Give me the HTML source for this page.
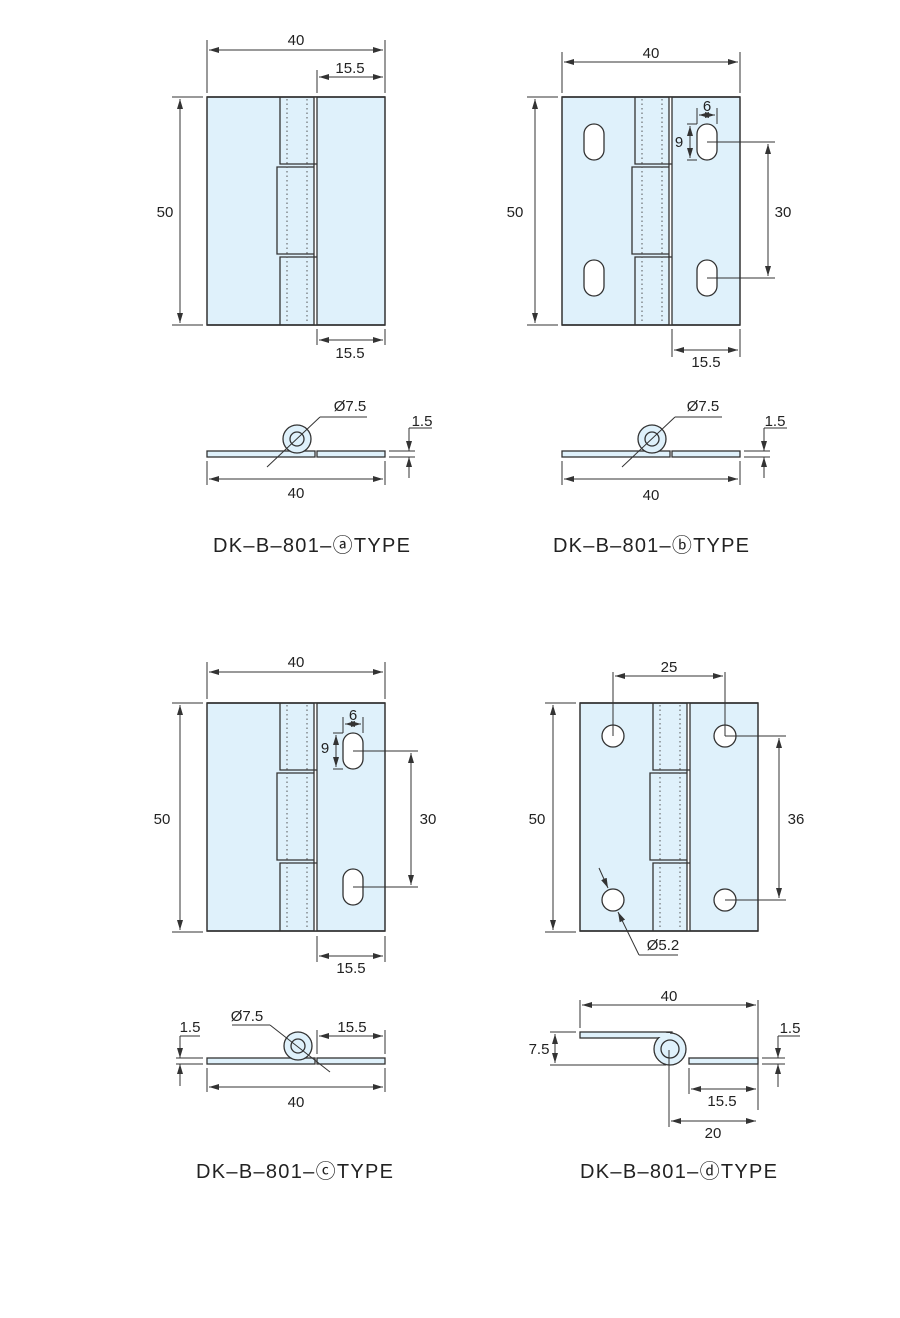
<!DOCTYPE html>
<html><head><meta charset="utf-8"><style>
html,body{margin:0;padding:0;background:#fff;}
svg{display:block;font-family:"Liberation Sans",Arial,sans-serif;}
text{fill:#222;}
</style></head><body>
<svg width="900" height="1318" viewBox="0 0 900 1318" xmlns="http://www.w3.org/2000/svg">
<defs>
<marker id="a" viewBox="0 0 10 6" refX="10" refY="3" markerWidth="10" markerHeight="6" orient="auto-start-reverse" markerUnits="userSpaceOnUse"><path d="M0,0 L10,3 L0,6 z" fill="#333"/></marker>
<g id="body">
<rect x="0" y="0" width="178" height="228" fill="#dff1fb" stroke="#333" stroke-width="1.5"/>
<rect x="107" y="0" width="3" height="228" fill="#fff"/>
<line x1="107" y1="0" x2="107" y2="228" stroke="#333" stroke-width="1.3"/>
<line x1="110" y1="0" x2="110" y2="228" stroke="#333" stroke-width="1.3"/>
<line x1="0" y1="0" x2="178" y2="0" stroke="#333" stroke-width="1.5"/>
<line x1="0" y1="228" x2="178" y2="228" stroke="#333" stroke-width="1.5"/>
<polyline points="73,0 73,67 110,67" fill="none" stroke="#333" stroke-width="1.3"/>
<polyline points="107,70 70,70 70,157 107,157" fill="none" stroke="#333" stroke-width="1.3"/>
<polyline points="110,160 73,160 73,228" fill="none" stroke="#333" stroke-width="1.3"/>
<line x1="80" y1="2" x2="80" y2="226" stroke="#555" stroke-width="1" stroke-dasharray="1.5,3"/>
<line x1="100" y1="2" x2="100" y2="226" stroke="#555" stroke-width="1" stroke-dasharray="1.5,3"/>
</g>
</defs>
<g stroke="#333" stroke-width="1" fill="none">
<use href="#body" x="207" y="97"/>
<line x1="207" y1="40" x2="207" y2="93"/><line x1="385" y1="40" x2="385" y2="93"/>
<line x1="209" y1="50" x2="383" y2="50" marker-start="url(#a)" marker-end="url(#a)"/>
<line x1="317" y1="70" x2="317" y2="93"/>
<line x1="319" y1="77" x2="383" y2="77" marker-start="url(#a)" marker-end="url(#a)"/>
<line x1="172" y1="97" x2="203" y2="97"/><line x1="172" y1="325" x2="203" y2="325"/>
<line x1="180" y1="99" x2="180" y2="323" marker-start="url(#a)" marker-end="url(#a)"/>
<line x1="317" y1="329" x2="317" y2="345"/><line x1="385" y1="329" x2="385" y2="345"/>
<line x1="319" y1="340" x2="383" y2="340" marker-start="url(#a)" marker-end="url(#a)"/>
<rect x="207" y="451" width="108" height="6" fill="#dff1fb" stroke-width="1.3"/>
<rect x="317" y="451" width="68" height="6" fill="#dff1fb" stroke-width="1.3"/>
<circle cx="297" cy="439" r="14" fill="#dff1fb" stroke-width="1.3"/>
<circle cx="297" cy="439" r="7" fill="#dff1fb" stroke-width="1.3"/>
<line x1="267" y1="467" x2="320" y2="417"/><line x1="320" y1="417" x2="367" y2="417"/>
<line x1="207" y1="461" x2="207" y2="485"/><line x1="385" y1="461" x2="385" y2="485"/>
<line x1="209" y1="479" x2="383" y2="479" marker-start="url(#a)" marker-end="url(#a)"/>
<line x1="389" y1="451" x2="415" y2="451"/><line x1="389" y1="457" x2="415" y2="457"/>
<line x1="409" y1="428" x2="409" y2="451" marker-end="url(#a)"/><line x1="409" y1="478" x2="409" y2="457" marker-end="url(#a)"/>
<line x1="409" y1="428" x2="432" y2="428"/>
<use href="#body" x="562" y="97"/>
<rect x="584" y="124" width="20" height="36" rx="10" fill="#fff" stroke-width="1.3"/>
<rect x="584" y="260" width="20" height="36" rx="10" fill="#fff" stroke-width="1.3"/>
<rect x="697" y="124" width="20" height="36" rx="10" fill="#fff" stroke-width="1.3"/>
<rect x="697" y="260" width="20" height="36" rx="10" fill="#fff" stroke-width="1.3"/>
<line x1="562" y1="52" x2="562" y2="93"/><line x1="740" y1="52" x2="740" y2="93"/>
<line x1="564" y1="62" x2="738" y2="62" marker-start="url(#a)" marker-end="url(#a)"/>
<line x1="697" y1="108" x2="697" y2="124"/><line x1="717" y1="108" x2="717" y2="124"/>
<line x1="699" y1="115" x2="715" y2="115" marker-start="url(#a)" marker-end="url(#a)"/>
<line x1="687" y1="124" x2="697" y2="124"/><line x1="687" y1="160" x2="697" y2="160"/>
<line x1="690" y1="126" x2="690" y2="158" marker-start="url(#a)" marker-end="url(#a)"/>
<line x1="707" y1="142" x2="775" y2="142"/><line x1="707" y1="278" x2="775" y2="278"/>
<line x1="768" y1="144" x2="768" y2="276" marker-start="url(#a)" marker-end="url(#a)"/>
<line x1="527" y1="97" x2="558" y2="97"/><line x1="527" y1="325" x2="558" y2="325"/>
<line x1="535" y1="99" x2="535" y2="323" marker-start="url(#a)" marker-end="url(#a)"/>
<line x1="672" y1="329" x2="672" y2="357"/><line x1="740" y1="329" x2="740" y2="357"/>
<line x1="674" y1="350" x2="738" y2="350" marker-start="url(#a)" marker-end="url(#a)"/>
<rect x="562" y="451" width="108" height="6" fill="#dff1fb" stroke-width="1.3"/>
<rect x="672" y="451" width="68" height="6" fill="#dff1fb" stroke-width="1.3"/>
<circle cx="652" cy="439" r="14" fill="#dff1fb" stroke-width="1.3"/>
<circle cx="652" cy="439" r="7" fill="#dff1fb" stroke-width="1.3"/>
<line x1="622" y1="467" x2="675" y2="417"/><line x1="675" y1="417" x2="722" y2="417"/>
<line x1="562" y1="461" x2="562" y2="485"/><line x1="740" y1="461" x2="740" y2="485"/>
<line x1="564" y1="479" x2="738" y2="479" marker-start="url(#a)" marker-end="url(#a)"/>
<line x1="744" y1="451" x2="770" y2="451"/><line x1="744" y1="457" x2="770" y2="457"/>
<line x1="764" y1="428" x2="764" y2="451" marker-end="url(#a)"/><line x1="764" y1="478" x2="764" y2="457" marker-end="url(#a)"/>
<line x1="764" y1="428" x2="787" y2="428"/>
<use href="#body" x="207" y="703"/>
<rect x="343" y="733" width="20" height="36" rx="10" fill="#fff" stroke-width="1.3"/>
<rect x="343" y="869" width="20" height="36" rx="10" fill="#fff" stroke-width="1.3"/>
<line x1="207" y1="662" x2="207" y2="699"/><line x1="385" y1="662" x2="385" y2="699"/>
<line x1="209" y1="672" x2="383" y2="672" marker-start="url(#a)" marker-end="url(#a)"/>
<line x1="343" y1="717" x2="343" y2="733"/><line x1="363" y1="717" x2="363" y2="733"/>
<line x1="345" y1="724" x2="361" y2="724" marker-start="url(#a)" marker-end="url(#a)"/>
<line x1="333" y1="733" x2="343" y2="733"/><line x1="333" y1="769" x2="343" y2="769"/>
<line x1="336" y1="735" x2="336" y2="767" marker-start="url(#a)" marker-end="url(#a)"/>
<line x1="353" y1="751" x2="418" y2="751"/><line x1="353" y1="887" x2="418" y2="887"/>
<line x1="411" y1="753" x2="411" y2="885" marker-start="url(#a)" marker-end="url(#a)"/>
<line x1="172" y1="703" x2="203" y2="703"/><line x1="172" y1="932" x2="203" y2="932"/>
<line x1="180" y1="705" x2="180" y2="930" marker-start="url(#a)" marker-end="url(#a)"/>
<line x1="317" y1="936" x2="317" y2="962"/><line x1="385" y1="936" x2="385" y2="962"/>
<line x1="319" y1="956" x2="383" y2="956" marker-start="url(#a)" marker-end="url(#a)"/>
<rect x="207" y="1058" width="108" height="6" fill="#dff1fb" stroke-width="1.3"/>
<rect x="317" y="1058" width="68" height="6" fill="#dff1fb" stroke-width="1.3"/>
<circle cx="298" cy="1046" r="14" fill="#dff1fb" stroke-width="1.3"/>
<circle cx="298" cy="1046" r="7" fill="#dff1fb" stroke-width="1.3"/>
<line x1="232" y1="1025" x2="270" y2="1025"/><line x1="270" y1="1025" x2="330" y2="1072"/>
<line x1="317" y1="1030" x2="317" y2="1054"/><line x1="385" y1="1030" x2="385" y2="1054"/>
<line x1="319" y1="1036" x2="383" y2="1036" marker-start="url(#a)" marker-end="url(#a)"/>
<line x1="207" y1="1068" x2="207" y2="1092"/><line x1="385" y1="1068" x2="385" y2="1092"/>
<line x1="209" y1="1087" x2="383" y2="1087" marker-start="url(#a)" marker-end="url(#a)"/>
<line x1="176" y1="1058" x2="203" y2="1058"/><line x1="176" y1="1064" x2="203" y2="1064"/>
<line x1="180" y1="1036" x2="180" y2="1058" marker-end="url(#a)"/><line x1="180" y1="1086" x2="180" y2="1064" marker-end="url(#a)"/>
<line x1="180" y1="1036" x2="200" y2="1036"/>
<use href="#body" x="580" y="703"/>
<circle cx="613" cy="736" r="11" fill="#fff" stroke-width="1.3"/>
<circle cx="613" cy="900" r="11" fill="#fff" stroke-width="1.3"/>
<circle cx="725" cy="736" r="11" fill="#fff" stroke-width="1.3"/>
<circle cx="725" cy="900" r="11" fill="#fff" stroke-width="1.3"/>
<line x1="613" y1="672" x2="613" y2="736"/><line x1="725" y1="672" x2="725" y2="736"/>
<line x1="615" y1="676" x2="723" y2="676" marker-start="url(#a)" marker-end="url(#a)"/>
<line x1="725" y1="736" x2="786" y2="736"/><line x1="725" y1="900" x2="786" y2="900"/>
<line x1="779" y1="738" x2="779" y2="898" marker-start="url(#a)" marker-end="url(#a)"/>
<line x1="545" y1="703" x2="576" y2="703"/><line x1="545" y1="932" x2="576" y2="932"/>
<line x1="553" y1="705" x2="553" y2="930" marker-start="url(#a)" marker-end="url(#a)"/>
<line x1="599" y1="868" x2="608" y2="888" marker-end="url(#a)"/>
<line x1="639" y1="955" x2="618" y2="912" marker-end="url(#a)"/>
<line x1="639" y1="955" x2="678" y2="955"/>
<rect x="580" y="1032" width="92" height="6" fill="#dff1fb" stroke-width="1.3"/>
<circle cx="670" cy="1049" r="16" fill="#dff1fb" stroke-width="1.3"/>
<circle cx="670" cy="1049" r="9" fill="#dff1fb" stroke-width="1.3"/>
<rect x="582" y="1033" width="88" height="4" fill="#dff1fb" stroke="none"/>
<rect x="689" y="1058" width="69" height="6" fill="#dff1fb" stroke-width="1.3"/>
<line x1="580" y1="1000" x2="580" y2="1028"/><line x1="758" y1="1000" x2="758" y2="1110"/>
<line x1="582" y1="1005" x2="756" y2="1005" marker-start="url(#a)" marker-end="url(#a)"/>
<line x1="550" y1="1032" x2="576" y2="1032"/><line x1="550" y1="1065" x2="666" y2="1065"/>
<line x1="555" y1="1034" x2="555" y2="1063" marker-start="url(#a)" marker-end="url(#a)"/>
<line x1="689" y1="1068" x2="689" y2="1094"/>
<line x1="691" y1="1089" x2="756" y2="1089" marker-start="url(#a)" marker-end="url(#a)"/>
<line x1="669" y1="1050" x2="669" y2="1127"/>
<line x1="671" y1="1121" x2="756" y2="1121" marker-start="url(#a)" marker-end="url(#a)"/>
<line x1="762" y1="1058" x2="785" y2="1058"/><line x1="762" y1="1064" x2="785" y2="1064"/>
<line x1="778" y1="1036" x2="778" y2="1058" marker-end="url(#a)"/><line x1="778" y1="1087" x2="778" y2="1064" marker-end="url(#a)"/>
<line x1="778" y1="1036" x2="800" y2="1036"/>
</g>
<g font-size="15" text-anchor="middle">
<text x="296" y="45">40</text><text x="350" y="73">15.5</text><text x="165" y="217">50</text><text x="350" y="358">15.5</text>
<text x="350" y="411">Ø7.5</text><text x="422" y="426">1.5</text><text x="296" y="498">40</text>
<text x="651" y="58">40</text><text x="707" y="111">6</text><text x="679" y="147">9</text><text x="783" y="217">30</text><text x="515" y="217">50</text><text x="706" y="367">15.5</text>
<text x="703" y="411">Ø7.5</text><text x="775" y="426">1.5</text><text x="651" y="500">40</text>
<text x="296" y="667">40</text><text x="353" y="720">6</text><text x="325" y="753">9</text><text x="428" y="824">30</text><text x="162" y="824">50</text><text x="351" y="973">15.5</text>
<text x="247" y="1021">Ø7.5</text><text x="352" y="1032">15.5</text><text x="190" y="1032">1.5</text><text x="296" y="1107">40</text>
<text x="669" y="672">25</text><text x="796" y="824">36</text><text x="537" y="824">50</text><text x="663" y="950">Ø5.2</text>
<text x="669" y="1001">40</text><text x="539" y="1054">7.5</text><text x="790" y="1033">1.5</text><text x="722" y="1106">15.5</text><text x="713" y="1138">20</text>
</g>
<g font-size="20">
<text x="213" y="552" textLength="197" lengthAdjust="spacing">DK–B–801–ⓐTYPE</text>
<text x="553" y="552" textLength="196" lengthAdjust="spacing">DK–B–801–ⓑTYPE</text>
<text x="196" y="1178" textLength="197" lengthAdjust="spacing">DK–B–801–ⓒTYPE</text>
<text x="580" y="1178" textLength="197" lengthAdjust="spacing">DK–B–801–ⓓTYPE</text>
</g>
</svg>
</body></html>
